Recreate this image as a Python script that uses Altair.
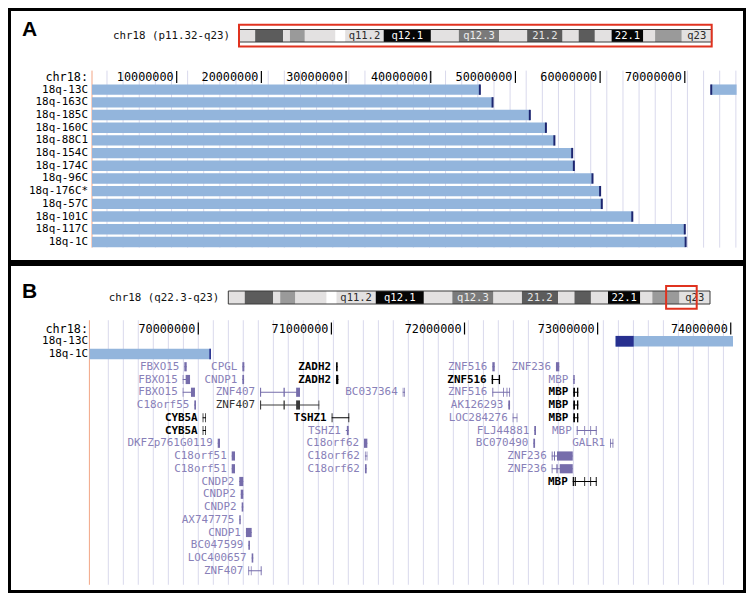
import altair as alt
import pandas as pd

W, H = 738, 585


def px(rx):
    # reference-picture pixel -> chart pixel (page margin is 8px)
    return rx - 8.0


def py(ry):
    return ry - 8.0


MONO = "DejaVu Sans Mono"

# ---------------- data ----------------
chr_len = 76.117  # Mb, chr18

band_start = [0.0, 2.6, 7.1, 8.2, 10.6, 15.5, 17.1, 23.3, 30.9, 35.4, 41.9, 46.4, 52.1, 54.7, 57.3, 60.0, 65.1, 67.0, 71.3]
band_end = [2.6, 7.1, 8.2, 10.6, 15.5, 17.1, 23.3, 30.9, 35.4, 41.9, 46.4, 52.1, 54.7, 57.3, 60.0, 65.1, 67.0, 71.3, 76.117]
band_stain = ["gneg", "gpos75", "gneg", "gpos50", "gneg", "acen", "gneg", "gpos100", "gneg", "gpos66",
              "gneg", "gpos75", "gneg", "gpos75", "gneg", "gpos100", "gneg", "gpos50", "gneg"]
band_label = ["", "", "", "", "", "", "q11.2", "q12.1", "", "q12.3", "", "21.2", "", "", "", "22.1", "", "", "q23"]

cen_pos = [15.5, 16.3, 17.1]
cen_top = [0.0, 0.44, 0.0]
cen_bottom = [1.0, 0.56, 1.0]

# Panel A: deletion-mapping tracks (Mb)
a_tracks = ["18q-13C", "18q-163C", "18q-185C", "18q-160C", "18q-88C1", "18q-154C", "18q-174C",
            "18q-96C", "18q-176C*", "18q-57C", "18q-101C", "18q-117C", "18q-1C"]
a_seg_track = ["18q-13C", "18q-163C", "18q-185C", "18q-160C", "18q-88C1", "18q-154C", "18q-174C",
               "18q-96C", "18q-176C*", "18q-57C", "18q-101C", "18q-117C", "18q-1C", "18q-13C"]
a_seg_start = [0.0, 0.0, 0.0, 0.0, 0.0, 0.0, 0.0, 0.0, 0.0, 0.0, 0.0, 0.0, 0.0, 73.12]
a_seg_end = [45.8, 47.3, 51.7, 53.6, 54.6, 56.7, 56.9, 59.1, 60.0, 60.2, 63.8, 70.0, 70.1, 76.117]
a_break = [45.8, 47.3, 51.7, 53.6, 54.6, 56.7, 56.9, 59.1, 60.0, 60.2, 63.8, 70.0, 70.1, 73.12]

a_ticks = [10, 20, 30, 40, 50, 60, 70]
a_tick_text = ["10000000", "20000000", "30000000", "40000000", "50000000", "60000000", "70000000"]
a_grid = [1.77, 3.67, 5.58, 7.48, 9.39, 11.29, 13.19, 15.10, 17.00, 18.91, 20.81, 22.71, 24.62, 26.52,
          28.43, 30.33, 32.23, 34.14, 36.04, 37.95, 39.85, 41.75, 43.66, 45.56, 47.47, 49.37, 51.27,
          53.18, 55.08, 56.99, 58.89, 60.79, 62.70, 64.60, 66.51, 68.41, 70.31, 72.22, 74.12, 76.03]

# Panel B: zoomed window q22.3-q23 (Mb)
b_window = [69.182, 74.017]
b_tracks = ["18q-13C", "18q-1C"]
b_seg_start = [73.135, 69.182]
b_seg_end = [74.017, 70.095]
b_dark_start = [73.135, 70.083]
b_dark_end = [73.271, 70.095]
b_ticks = [70, 71, 72, 73, 74]
b_tick_text = ["70000000", "71000000", "72000000", "73000000", "74000000"]
b_grid = [69.324, 69.437, 69.549, 69.662, 69.775, 69.888, 70.000, 70.113, 70.226, 70.338, 70.451,
          70.564, 70.676, 70.789, 70.902, 71.015, 71.127, 71.240, 71.353, 71.465, 71.578, 71.691,
          71.803, 71.916, 72.029, 72.142, 72.254, 72.367, 72.480, 72.592, 72.705, 72.818, 72.930,
          73.043, 73.156, 73.269, 73.381, 73.494, 73.607, 73.719, 73.832, 73.945]

# genes: (name, row, start, end, class, exons or None for a single block)
genes = [
    ("FBXO15", 1, 69.895, 69.913, "light", None),
    ("CPGL", 1, 70.331, 70.346, "light", None),
    ("ZADH2", 1, 71.035, 71.047, "dark", None),
    ("ZNF516", 1, 72.209, 72.227, "light", None),
    ("ZNF236", 1, 72.687, 72.712, "light", None),
    ("FBXO15", 2, 69.883, 69.938, "light", [(69.883, 69.888), (69.905, 69.938)]),
    ("CNDP1", 2, 70.331, 70.344, "light", None),
    ("ZADH2", 2, 71.035, 71.052, "dark", None),
    ("ZNF516", 2, 72.204, 72.267, "dark", [(72.204, 72.215), (72.257, 72.267)]),
    ("MBP", 2, 72.817, 72.828, "light", None),
    ("FBXO15", 3, 69.883, 69.975, "light", [(69.883, 69.888), (69.945, 69.975)]),
    ("ZNF407", 3, 70.464, 70.764, "light", [(70.464, 70.472), (70.640, 70.650), (70.735, 70.764)]),
    ("BC037364", 3, 71.536, 71.553, "light", [(71.536, 71.541), (71.548, 71.553)]),
    ("ZNF516", 3, 72.209, 72.342, "light", [(72.209, 72.216), (72.290, 72.296), (72.316, 72.322), (72.336, 72.342)]),
    ("MBP", 3, 72.817, 72.855, "dark", [(72.817, 72.830), (72.845, 72.855)]),
    ("C18orf55", 4, 69.970, 69.983, "light", None),
    ("ZNF407", 4, 70.464, 70.909, "mid", [(70.464, 70.472), (70.640, 70.650), (70.735, 70.764), (70.903, 70.909)]),
    ("AK126293", 4, 72.329, 72.342, "light", None),
    ("MBP", 4, 72.817, 72.855, "dark", [(72.817, 72.830), (72.845, 72.855)]),
    ("CYB5A", 5, 70.033, 70.058, "dark", [(70.033, 70.038), (70.053, 70.058)]),
    ("TSHZ1", 5, 71.002, 71.134, "dark", [(71.002, 71.008), (71.128, 71.134)]),
    ("LOC284276", 5, 72.362, 72.397, "light", [(72.362, 72.367), (72.392, 72.397)]),
    ("MBP", 5, 72.817, 72.855, "dark", [(72.817, 72.830), (72.845, 72.855)]),
    ("CYB5A", 6, 70.033, 70.058, "dark", [(70.033, 70.038), (70.053, 70.058)]),
    ("TSHZ1", 6, 71.108, 71.130, "light", [(71.116, 71.130)]),
    ("FLJ44881", 6, 72.524, 72.537, "light", None),
    ("MBP", 6, 72.843, 72.993, "light", [(72.843, 72.850), (72.900, 72.906), (72.945, 72.951), (72.986, 72.993)]),
    ("DKFZp761G0119", 7, 70.146, 70.163, "light", None),
    ("C18orf62", 7, 71.245, 71.270, "light", None),
    ("BC070490", 7, 72.517, 72.530, "light", None),
    ("GALR1", 7, 73.093, 73.118, "light", [(73.093, 73.099), (73.112, 73.118)]),
    ("C18orf51", 8, 70.251, 70.276, "light", None),
    ("C18orf62", 8, 71.252, 71.270, "light", [(71.252, 71.257), (71.265, 71.270)]),
    ("ZNF236", 8, 72.655, 72.813, "light", [(72.655, 72.662), (72.672, 72.680), (72.695, 72.813)]),
    ("C18orf51", 9, 70.251, 70.276, "light", None),
    ("C18orf62", 9, 71.252, 71.265, "light", None),
    ("ZNF236", 9, 72.655, 72.813, "light", [(72.655, 72.661), (72.690, 72.700), (72.715, 72.813)]),
    ("CNDP2", 10, 70.308, 70.338, "light", None),
    ("MBP", 10, 72.813, 72.993, "dark", [(72.813, 72.822), (72.828, 72.836), (72.900, 72.906), (72.945, 72.951), (72.986, 72.993)]),
    ("CNDP2", 11, 70.319, 70.338, "light", None),
    ("CNDP2", 12, 70.326, 70.338, "light", None),
    ("AX747775", 13, 70.308, 70.319, "light", None),
    ("CNDP1", 14, 70.358, 70.401, "light", None),
    ("BC047599", 15, 70.376, 70.388, "light", None),
    ("LOC400657", 16, 70.401, 70.413, "light", None),
    ("ZNF407", 17, 70.376, 70.476, "light", [(70.376, 70.382), (70.395, 70.400), (70.469, 70.476)]),
]

# ---------------- styles / scales ----------------
def sc(domain, r0, r1):
    return alt.Scale(domain=domain, range=[r0, r1], nice=False, zero=False)


XA_ideo = sc([0, chr_len], px(239), px(711.7))
YA_ideo = sc([0, 1], py(29.5), py(42))
XB_ideo = sc([0, chr_len], px(228.3), px(710))
YB_ideo = sc([0, 1], py(291), py(304))
XA = sc([0, chr_len], px(92), px(736.6))
YA = sc([-1, 12], py(76.96), py(241.93))
XB = sc(b_window, px(89.4), px(733))
YB = sc([-2, 18], py(328.5), py(583.5))

stain_dom = ["gneg", "gpos50", "gpos66", "gpos75", "gpos100", "acen"]
stain_fill = alt.Scale(domain=stain_dom, range=["#e3e1e1", "#9a9a9a", "#7a7a7a", "#5c5c5c", "#050505", "#ffffff"])
stain_text = alt.Scale(domain=stain_dom, range=["#2a2a2a", "#202020", "#eeeeee", "#e6e6e6", "#ffffff", "#ffffff"])
cls_dom = ["light", "mid", "dark"]
cls_label = alt.Scale(domain=cls_dom, range=["#8880b8", "#333333", "#000000"])
cls_glyph = alt.Scale(domain=cls_dom, range=["#766dab", "#3a3a3a", "#000000"])

GRID = "#d9d9ec"
BAR = "#93b5dc"
CAP = "#1d2670"
ORANGE = "#f2a585"
FS = 10.9

layers = []

# ---------------- ideograms ----------------
bands = pd.DataFrame({"start": band_start, "end": band_end, "stain": band_stain, "label": band_label})
bands["mid"] = (bands["start"] + bands["end"]) / 2
bands["top"] = 0.0
bands["bottom"] = 1.0
bands["center"] = 0.5
cen = pd.DataFrame({"pos": cen_pos, "top": cen_top, "bottom": cen_bottom})


def ideogram(X, Y, window, title):
    out = []
    out.append(alt.Chart(bands[bands["stain"] != "acen"]).mark_rect().encode(
        x=alt.X("start:Q", scale=X, axis=None), x2="end:Q",
        y=alt.Y("top:Q", scale=Y, axis=None), y2="bottom:Q",
        color=alt.Color("stain:N", scale=stain_fill, legend=None)))
    out.append(alt.Chart(cen).mark_area(color="#b65a40").encode(
        x=alt.X("pos:Q", scale=X, axis=None),
        y=alt.Y("top:Q", scale=Y, axis=None), y2="bottom:Q", order="pos:Q"))
    outline = pd.DataFrame({"start": [0.0], "end": [chr_len], "top": [0.0], "bottom": [1.0]})
    out.append(alt.Chart(outline).mark_rect(fillOpacity=0, stroke="#3a3a3a", strokeWidth=1).encode(
        x=alt.X("start:Q", scale=X, axis=None), x2="end:Q",
        y=alt.Y("top:Q", scale=Y, axis=None), y2="bottom:Q"))
    out.append(alt.Chart(bands[bands["label"] != ""]).mark_text(
        font=MONO, fontSize=10.5, baseline="middle", align="center", dy=0.5).encode(
        x=alt.X("mid:Q", scale=X, axis=None), y=alt.Y("center:Q", scale=Y, axis=None),
        text="label:N", color=alt.Color("stain:N", scale=stain_text, legend=None)))
    box = pd.DataFrame({"start": [window[0]], "end": [window[1]], "top": [-0.38], "bottom": [1.36]})
    out.append(alt.Chart(box).mark_rect(fillOpacity=0, stroke="#e0321f", strokeWidth=2).encode(
        x=alt.X("start:Q", scale=X, axis=None), x2="end:Q",
        y=alt.Y("top:Q", scale=Y, axis=None), y2="bottom:Q"))
    tdf = pd.DataFrame({"pos": [0.0], "mid": [0.5], "text": [title]})
    out.append(alt.Chart(tdf).mark_text(font=MONO, fontSize=10.8, align="right", baseline="middle",
                                        dx=-9, color="#111111").encode(
        x=alt.X("pos:Q", scale=X, axis=None), y=alt.Y("mid:Q", scale=Y, axis=None), text="text:N"))
    return out


layers += ideogram(XA_ideo, YA_ideo, [0.0, chr_len], "chr18 (p11.32-q23)")
layers += ideogram(XB_ideo, YB_ideo, b_window, "chr18 (q22.3-q23)")


# ---------------- ruler / grid helpers ----------------
def grid_layer(vals, X, Y, top, bottom):
    df = pd.DataFrame({"pos": vals})
    df["top"] = top
    df["bottom"] = bottom
    return alt.Chart(df).mark_rule(color=GRID, strokeWidth=1).encode(
        x=alt.X("pos:Q", scale=X, axis=None), y=alt.Y("top:Q", scale=Y, axis=None), y2="bottom:Q")


def edge_layer(pos, X, Y, top, bottom):
    df = pd.DataFrame({"pos": [pos], "top": [top], "bottom": [bottom]})
    return alt.Chart(df).mark_rule(color=ORANGE, strokeWidth=1).encode(
        x=alt.X("pos:Q", scale=X, axis=None), y=alt.Y("top:Q", scale=Y, axis=None), y2="bottom:Q")


def ruler_layers(ticks, texts, X, Y, row):
    df = pd.DataFrame({"pos": ticks, "text": texts})
    df["row"] = row
    df["top"] = row - 0.47
    df["bottom"] = row + 0.47
    tk = alt.Chart(df).mark_rule(color="#000000", strokeWidth=1.2).encode(
        x=alt.X("pos:Q", scale=X, axis=None), y=alt.Y("top:Q", scale=Y, axis=None), y2="bottom:Q")
    tx = alt.Chart(df).mark_text(font=MONO, fontSize=11.8, align="right", baseline="middle", dx=-3,
                                 color="#000000").encode(
        x=alt.X("pos:Q", scale=X, axis=None), y=alt.Y("row:Q", scale=Y, axis=None), text="text:N")
    lab = alt.Chart(pd.DataFrame({"row": [row], "text": ["chr18:"]})).mark_text(
        font=MONO, fontSize=11.8, align="right", baseline="middle", color="#000000").encode(
        x=alt.value(px(88)), y=alt.Y("row:Q", scale=Y, axis=None), text="text:N")
    return [tk, tx, lab]


# ---------------- panel A tracks ----------------
a_row = {n: i for i, n in enumerate(a_tracks)}
segA = pd.DataFrame({"track": a_seg_track, "start": a_seg_start, "end": a_seg_end, "brk": a_break})
segA["row"] = segA["track"].map(a_row)
segA["top"] = segA["row"] - 0.41
segA["bottom"] = segA["row"] + 0.41
labA = pd.DataFrame({"track": a_tracks})
labA["row"] = labA["track"].map(a_row)

layers.append(grid_layer(a_grid, XA, YA, -1.5, 12.45))
layers.append(edge_layer(0.0, XA, YA, -1.5, 12.45))
layers += ruler_layers(a_ticks, a_tick_text, XA, YA, -1)
layers.append(alt.Chart(segA).mark_rect(color=BAR).encode(
    x=alt.X("start:Q", scale=XA, axis=None), x2="end:Q",
    y=alt.Y("top:Q", scale=YA, axis=None), y2="bottom:Q"))
layers.append(alt.Chart(segA).mark_rule(color=CAP, strokeWidth=2).encode(
    x=alt.X("brk:Q", scale=XA, axis=None),
    y=alt.Y("top:Q", scale=YA, axis=None), y2="bottom:Q"))
layers.append(alt.Chart(labA).mark_text(font=MONO, fontSize=FS, align="right", baseline="middle",
                                        color="#000000").encode(
    x=alt.value(px(88)), y=alt.Y("row:Q", scale=YA, axis=None), text="track:N"))

# ---------------- panel B tracks ----------------
segB = pd.DataFrame({"track": b_tracks, "start": b_seg_start, "end": b_seg_end,
                     "dstart": b_dark_start, "dend": b_dark_end})
segB["row"] = [-1, 0]
segB["top"] = segB["row"] - 0.42
segB["bottom"] = segB["row"] + 0.42

layers.append(grid_layer(b_grid, XB, YB, -2.65, 18.1))
layers.append(edge_layer(b_window[0], XB, YB, -2.65, 18.1))
layers += ruler_layers(b_ticks, b_tick_text, XB, YB, -2)
layers.append(alt.Chart(segB).mark_rect(color=BAR).encode(
    x=alt.X("start:Q", scale=XB, axis=None), x2="end:Q",
    y=alt.Y("top:Q", scale=YB, axis=None), y2="bottom:Q"))
layers.append(alt.Chart(segB).mark_rect(color="#27308f").encode(
    x=alt.X("dstart:Q", scale=XB, axis=None), x2="dend:Q",
    y=alt.Y("top:Q", scale=YB, axis=None), y2="bottom:Q"))
layers.append(alt.Chart(segB).mark_text(font=MONO, fontSize=FS, align="right", baseline="middle",
                                        color="#000000").encode(
    x=alt.value(px(88)), y=alt.Y("row:Q", scale=YB, axis=None), text="track:N"))

# genes
gdf = pd.DataFrame([{"name": g[0], "row": g[1], "start": g[2], "end": g[3], "cls": g[4]} for g in genes])
ex_rows = []
for g in genes:
    exs = g[5] if g[5] is not None else [(g[2], g[3])]
    for s, e in exs:
        ex_rows.append({"row": g[1], "start": s, "end": e, "cls": g[4]})
edf = pd.DataFrame(ex_rows)
edf["top"] = edf["row"] - 0.36
edf["bottom"] = edf["row"] + 0.36

layers.append(alt.Chart(gdf).mark_rule(strokeWidth=1).encode(
    x=alt.X("start:Q", scale=XB, axis=None), x2="end:Q",
    y=alt.Y("row:Q", scale=YB, axis=None),
    color=alt.Color("cls:N", scale=cls_glyph, legend=None)))
layers.append(alt.Chart(edf).mark_rect().encode(
    x=alt.X("start:Q", scale=XB, axis=None), x2="end:Q",
    y=alt.Y("top:Q", scale=YB, axis=None), y2="bottom:Q",
    color=alt.Color("cls:N", scale=cls_glyph, legend=None)))
layers.append(alt.Chart(gdf[gdf["cls"] != "dark"]).mark_text(
    font=MONO, fontSize=FS, align="right", baseline="middle", dx=-5).encode(
    x=alt.X("start:Q", scale=XB, axis=None), y=alt.Y("row:Q", scale=YB, axis=None),
    text="name:N", color=alt.Color("cls:N", scale=cls_label, legend=None)))
layers.append(alt.Chart(gdf[gdf["cls"] == "dark"]).mark_text(
    font=MONO, fontSize=FS, fontWeight="bold", align="right", baseline="middle", dx=-5).encode(
    x=alt.X("start:Q", scale=XB, axis=None), y=alt.Y("row:Q", scale=YB, axis=None),
    text="name:N", color=alt.Color("cls:N", scale=cls_label, legend=None)))

# ---------------- panel frames & letters ----------------
one = alt.Data(values=[{"k": 1}])
layers.append(alt.Chart(one).mark_rect(fillOpacity=0, stroke="#000000", strokeWidth=3).encode(
    x=alt.value(1.5), x2=alt.value(W - 1.5), y=alt.value(1.5), y2=alt.value(py(261.5))))
layers.append(alt.Chart(one).mark_rect(fillOpacity=0, stroke="#000000", strokeWidth=3).encode(
    x=alt.value(1.5), x2=alt.value(W - 1.5), y=alt.value(py(264.5)), y2=alt.value(H - 1.5)))
layers.append(alt.Chart(alt.Data(values=[{"t": "A"}])).mark_text(
    font="Liberation Sans", fontSize=21, fontWeight="bold", align="left", baseline="alphabetic").encode(
    x=alt.value(px(22)), y=alt.value(py(36)), text="t:N"))
layers.append(alt.Chart(alt.Data(values=[{"t": "B"}])).mark_text(
    font="Liberation Sans", fontSize=21, fontWeight="bold", align="left", baseline="alphabetic").encode(
    x=alt.value(px(22)), y=alt.value(py(298)), text="t:N"))

chart = alt.layer(*layers).resolve_scale(
    x="independent", y="independent", color="independent"
).properties(
    width=W, height=H, padding=0, autosize=alt.AutoSizeParams(type="none"),
    background="white"
).configure_view(stroke=None)

chart.save("out.html", embed_options={"renderer": "svg", "actions": False})
